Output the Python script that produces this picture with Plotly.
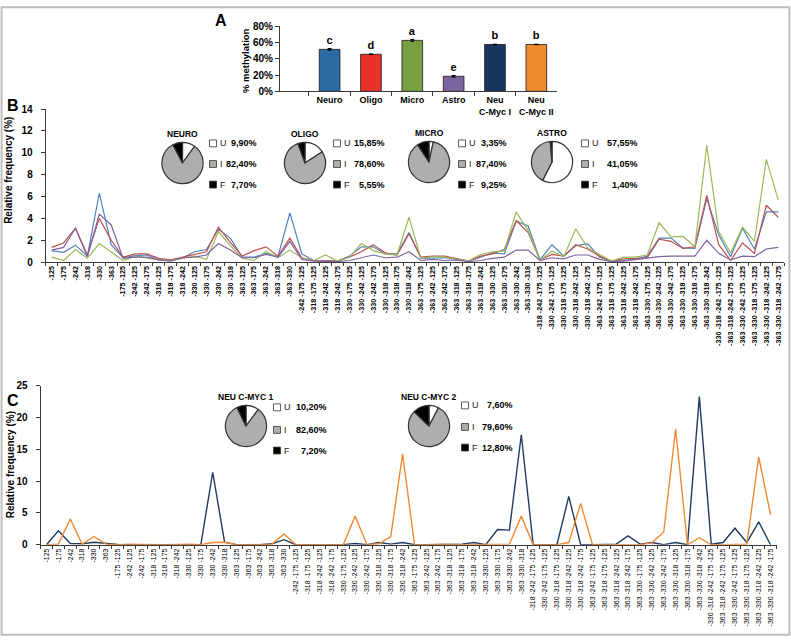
import plotly.graph_objects as go

W, H = 791, 642
FONT = "Arial, Liberation Sans, sans-serif"

# ---- panel A: % methylation per cell type
cell_types = ["Neuro", "Oligo", "Micro", "Astro", "Neu<br>C-Myc I", "Neu<br>C-Myc II"]
methylation = [51.5, 45.5, 62.5, 18.5, 57.5, 57.5]
methylation_err = [1.0, 0.4, 1.0, 1.0, 0.3, 0.3]
stat_letters = ["c", "d", "a", "e", "b", "b"]
bar_colors = ["#2C6AA3", "#E8322B", "#78A043", "#7D63A0", "#17375E", "#EE8A2C"]

# ---- panels B and C: methylated CpG combinations
cpg_patterns = [
    "-125", "-175", "-242", "-318", "-330", "-363",
    "-175 -125", "-242 -125", "-242 -175", "-318 -125", "-318 -175", "-318 -242",
    "-330 -125", "-330 -175", "-330 -242", "-330 -318", "-363 -125", "-363 -175",
    "-363 -242", "-363 -318", "-363 -330",
    "-242 -175 -125", "-318 -175 -125", "-318 -242 -125", "-318 -242 -175",
    "-330 -175 -125", "-330 -242 -125", "-330 -242 -175", "-330 -318 -125",
    "-330 -318 -175", "-330 -318 -242", "-363 -175 -125", "-363 -242 -125",
    "-363 -242 -175", "-363 -318 -125", "-363 -318 -175", "-363 -318 -242",
    "-363 -330 -125", "-363 -330 -175", "-363 -330 -242", "-363 -330 -318",
    "-318 -242 -175 -125", "-330 -242 -175 -125", "-330 -318 -175 -125",
    "-330 -318 -242 -125", "-330 -318 -242 -175", "-363 -242 -175 -125",
    "-363 -318 -175 -125", "-363 -318 -242 -125", "-363 -318 -242 -175",
    "-363 -330 -175 -125", "-363 -330 -242 -125", "-363 -330 -242 -175",
    "-363 -330 -318 -125", "-363 -330 -318 -175", "-363 -330 -318 -242",
    "-330 -318 -242 -175 -125", "-363 -318 -242 -175 -125", "-363 -330 -242 -175 -125",
    "-363 -330 -318 -175 -125", "-363 -330 -318 -242 -125", "-363 -330 -318 -242 -175",
]

neuro = [1.05, 0.9, 1.55, 0.55, 6.3, 1.6,
         0.4, 0.6, 0.65, 0.2, 0.15, 0.4, 0.95, 1.15, 3.0, 2.2, 0.45, 0.45, 0.8, 0.5, 4.5,
         0.75, 0.15, 0.15, 0.1, 0.55, 1.4, 1.4, 0.75, 0.75, 2.7, 0.35, 0.4, 0.4, 0.25,
         0.1, 0.45, 0.85, 0.75, 3.75, 3.3,
         0.2, 1.6, 0.55, 1.5, 1.7, 0.45, 0.1, 0.15, 0.25, 0.55, 2.2, 2.2, 1.3, 1.25, 5.8,
         2.5, 0.5, 3.1, 1.2, 4.6, 4.6]
oligo = [1.35, 1.75, 3.1, 0.65, 4.0, 2.0,
         0.45, 0.75, 0.75, 0.35, 0.2, 0.45, 0.7, 0.95, 3.2, 1.8, 0.55, 1.05, 1.4, 0.55, 2.2,
         0.4, 0.15, 0.15, 0.1, 0.45, 0.95, 1.6, 0.85, 0.65, 2.6, 0.45, 0.55, 0.55, 0.3,
         0.1, 0.55, 0.75, 1.15, 3.8, 2.7,
         0.2, 0.7, 0.55, 1.6, 1.2, 0.55, 0.1, 0.3, 0.35, 0.4, 2.1, 1.9, 1.25, 1.4, 6.1,
         1.6, 0.15, 1.75, 0.8, 5.2, 4.1]
micro = [0.45, 0.15, 1.15, 0.35, 1.7, 0.9,
         0.15, 0.55, 0.4, 0.2, 0.15, 0.35, 0.55, 0.25, 2.8, 1.5, 0.35, 0.15, 1.0, 0.4, 1.1,
         0.4, 0.15, 0.65, 0.1, 0.45, 1.7, 1.05, 0.75, 0.65, 4.1, 0.35, 0.5, 0.45, 0.25,
         0.1, 0.7, 0.95, 1.0, 4.6, 2.9,
         0.15, 1.0, 0.5, 3.05, 1.3, 0.7, 0.1, 0.45, 0.45, 0.65, 3.6, 2.3, 2.35, 1.4, 10.7,
         2.8, 0.85, 3.2, 1.9, 9.4, 5.7]
astro = [1.1, 1.35, 3.1, 0.5, 4.4, 3.4,
         0.35, 0.45, 0.45, 0.2, 0.1, 0.4, 0.45, 0.65, 1.7, 1.1, 0.4, 0.4, 0.7, 0.45, 1.9,
         0.25, 0.1, 0.1, 0.05, 0.15, 0.4, 0.65, 0.4, 0.45, 0.95, 0.15, 0.25, 0.15, 0.2,
         0.05, 0.15, 0.35, 0.45, 1.1, 1.1,
         0.15, 0.4, 0.3, 0.65, 0.65, 0.25, 0.05, 0.1, 0.25, 0.4, 0.5, 0.55, 0.55, 0.55, 2.0,
         0.8, 0.2, 0.55, 0.5, 1.2, 1.35]

neu_cmyc1 = [0.0, 2.2, 0.2, 0.15, 0.4, 0.2,
             0.05, 0.0, 0.0, 0.1, 0.0, 0.0, 0.0, 0.0, 11.4, 0.4, 0.0, 0.0, 0.0, 0.15, 0.8,
             0.0, 0.0, 0.1, 0.0, 0.0, 0.2, 0.0, 0.35, 0.1, 0.35, 0.0, 0.0, 0.0, 0.0,
             0.1, 0.35, 0.0, 2.4, 2.3, 17.3,
             0.0, 0.0, 0.0, 7.6, 0.0, 0.0, 0.0, 0.1, 1.4, 0.1, 0.35, 0.0, 0.35, 0.0, 23.3,
             0.1, 0.35, 2.6, 0.35, 3.6, 0.0]
neu_cmyc2 = [0.0, 0.1, 4.05, 0.1, 1.3, 0.1,
             0.0, 0.1, 0.05, 0.0, 0.0, 0.05, 0.1, 0.0, 0.35, 0.4, 0.0, 0.0, 0.0, 0.1, 1.7,
             0.0, 0.0, 0.0, 0.0, 0.0, 4.5, 0.0, 0.15, 1.3, 14.3, 0.0, 0.0, 0.05, 0.1,
             0.0, 0.05, 0.0, 0.1, 0.1, 4.5,
             0.0, 0.0, 0.0, 0.35, 6.5, 0.0, 0.0, 0.0, 0.0, 0.0, 0.3, 2.0, 18.2, 0.0, 1.1,
             0.0, 0.0, 0.0, 0.1, 13.8, 4.7]

# ---- pies: unmethylated / intermediate / fully methylated
pie_states = ["U", "I", "F"]
pie_names = ["NEURO", "OLIGO", "MICRO", "ASTRO", "NEU C-MYC 1", "NEU C-MYC 2"]
pie_values = [
    [9.90, 82.40, 7.70],
    [15.85, 78.60, 5.55],
    [3.35, 87.40, 9.25],
    [57.55, 41.05, 1.40],
    [10.20, 82.60, 7.20],
    [7.60, 79.60, 12.80],
]
STATE_COLORS = ["#FFFFFF", "#AEAEAE", "#000000"]

B_COLORS = ["#4F81BD", "#C0504D", "#9BBB59", "#8064A2"]
C_COLORS = ["#1F3A63", "#F08A33"]


def px(x):
    return x / W


def py(y):
    return 1 - y / H


def note(x, y, text, xanchor="center", **kw):
    return dict(xref="paper", yref="paper", x=px(x), y=py(y), text=text, showarrow=False,
                xanchor=xanchor, yanchor="middle", **kw)


fig = go.Figure()

# panel A
fig.add_trace(go.Bar(
    x=cell_types, y=methylation,
    marker=dict(color=bar_colors, line=dict(color="#1a1a1a", width=0.8)),
    width=0.5,
    error_y=dict(type="data", array=methylation_err, color="black", thickness=1, width=2),
    text=stat_letters, textposition="outside", cliponaxis=False,
    textfont=dict(size=11, color="black", family=FONT, weight="bold"),
    xaxis="x", yaxis="y", showlegend=False,
))

# panel B
for name, vals, col in zip(["Neuro", "Oligo", "Micro", "Astro"],
                           [neuro, oligo, micro, astro], B_COLORS):
    fig.add_trace(go.Scatter(
        x=cpg_patterns, y=vals, mode="lines", name=name,
        line=dict(color=col, width=1.2),
        xaxis="x2", yaxis="y2", showlegend=False,
    ))

# panel C
for name, vals, col in zip(["Neu C-Myc I", "Neu C-Myc II"], [neu_cmyc1, neu_cmyc2], C_COLORS):
    fig.add_trace(go.Scatter(
        x=cpg_patterns, y=vals, mode="lines", name=name,
        line=dict(color=col, width=1.4),
        xaxis="x3", yaxis="y3", showlegend=False,
    ))

# pies with their little legends (pie centre, legend square x, percent right edge, row ys)
pie_layout = [
    (182.5, 160, 213, 259, [140, 161, 182]),
    (305, 160, 337, 387, [140, 161, 182]),
    (429, 159, 462, 509, [140, 161, 182]),
    (552, 159, 585, 640, [140, 161, 182]),
    (246, 428, 277, 329, [409, 432, 453]),
    (429, 428, 465, 515, [407, 429, 450]),
]
R = 21
annotations = []
shapes = []
for name, vals, (cx, cy, sqx, rx, rows) in zip(pie_names, pie_values, pie_layout):
    fig.add_trace(go.Pie(
        labels=pie_states, values=vals, sort=False, direction="clockwise", rotation=0,
        marker=dict(colors=STATE_COLORS, line=dict(color="#333333", width=1.2)),
        textinfo="none", hoverinfo="label+value", showlegend=False,
        domain=dict(x=[px(cx - R), px(cx + R)], y=[py(cy + R), py(cy - R)]),
    ))
    annotations.append(note(cx, cy - R - 9, name,
                            font=dict(size=8.5, family=FONT, weight="bold", color="black")))
    for state, v, col, ry in zip(pie_states, vals, STATE_COLORS, rows):
        shapes.append(dict(type="rect", xref="paper", yref="paper",
                           x0=px(sqx - 3.5), x1=px(sqx + 3.5), y0=py(ry + 3.5), y1=py(ry - 3.5),
                           fillcolor=col, line=dict(color="#333333", width=0.8)))
        annotations.append(note(sqx + 4.5, ry, state, xanchor="left",
                                font=dict(size=9, family=FONT, color="#222")))
        annotations.append(note(rx, ry, f"{v:.2f}".replace(".", ",") + "%", xanchor="right",
                                font=dict(size=9, family=FONT, weight="bold", color="black")))

# panel letters and axis titles
for txt, x, y in [("A", 221, 15), ("B", 13, 101), ("C", 13, 402)]:
    annotations.append(note(x, y, txt,
                            font=dict(size=16, family=FONT, weight="bold", color="black")))
for txt, x, y, size in [("% methylation", 246, 55, 9.5),
                        ("Relative frequency (%)", 9, 168, 10),
                        ("Relative frequency (%)", 10, 468, 10)]:
    annotations.append(note(x, y, txt, textangle=-90,
                            font=dict(size=size, family=FONT, weight="bold", color="black")))

shapes.append(dict(type="rect", xref="paper", yref="paper", x0=0.002, x1=0.998, y0=0.002,
                   y1=0.998, line=dict(color="#BDBDBD", width=2)))

axis_common = dict(showline=True, linecolor="#3a3a3a", linewidth=1, ticks="outside",
                   tickcolor="#3a3a3a", showgrid=False, zeroline=False, fixedrange=True)

fig.update_layout(
    width=W, height=H,
    margin=dict(l=0, r=0, t=0, b=0),
    paper_bgcolor="white", plot_bgcolor="white",
    font=dict(family=FONT, color="black"),
    showlegend=False,
    xaxis=dict(domain=[px(280), px(557)], anchor="y", type="category", range=[-1.2, 5.5],
               tickson="boundaries", ticklen=4,
               tickfont=dict(size=9, family=FONT, weight="bold"), **axis_common),
    yaxis=dict(domain=[py(87), py(20.5)], anchor="x", range=[0, 80], dtick=20, ticksuffix="%",
               ticklen=4, tickfont=dict(size=10, family=FONT, weight="bold"), **axis_common),
    xaxis2=dict(domain=[px(45.7), px(784.2)], anchor="y2", type="category",
                categoryarray=cpg_patterns, range=[-0.5, 61.5], tickson="boundaries",
                ticklen=3, tickangle=-90, tickmode="array", tickvals=cpg_patterns,
                tickfont=dict(size=7.2, family=FONT, weight="bold"), **axis_common),
    yaxis2=dict(domain=[py(261), py(105)], anchor="x2", range=[0, 14], dtick=2, ticklen=4,
                ticklabelstandoff=6,
                tickfont=dict(size=10, family=FONT, weight="bold"), **axis_common),
    xaxis3=dict(domain=[px(40.6), px(776.5)], anchor="y3", type="category",
                categoryarray=cpg_patterns, range=[-0.5, 61.5], tickson="boundaries",
                ticklen=3, tickangle=-90, tickmode="array", tickvals=cpg_patterns,
                tickfont=dict(size=7, family=FONT), **axis_common),
    yaxis3=dict(domain=[py(549), py(387)], anchor="x3", range=[0, 25], dtick=5, ticklen=4,
                ticklabelstandoff=6,
                tickfont=dict(size=10, family=FONT, weight="bold"), **axis_common),
    annotations=annotations,
    shapes=shapes,
)

fig.write_html("out.html", config={"displayModeBar": False},
               post_script="document.body.style.margin='0';document.body.style.overflow='hidden';")
